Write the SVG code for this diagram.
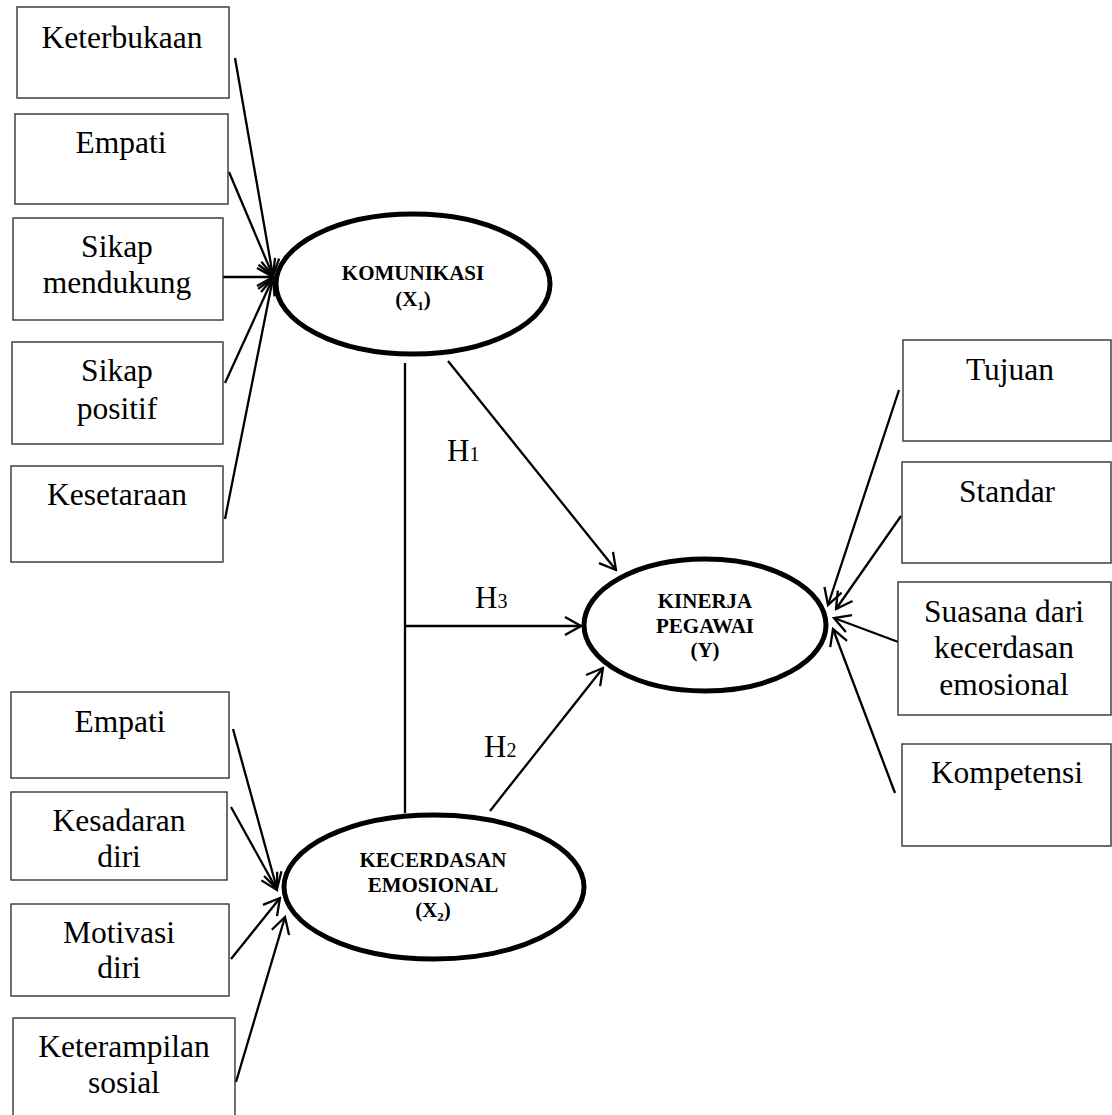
<svg xmlns="http://www.w3.org/2000/svg" width="1112" height="1115" viewBox="0 0 1112 1115">
<style>
.box{fill:#fff;stroke:#333;stroke-width:1.4}
.t{font-family:"Liberation Serif","Times New Roman",serif;font-size:31.5px;fill:#000;text-anchor:middle}
.lat{fill:#fff;stroke:#000;stroke-width:5}
.lt{font-family:"Liberation Serif","Times New Roman",serif;font-size:21px;font-weight:bold;fill:#000;text-anchor:middle}
.ln{stroke:#000;stroke-width:2.3;fill:none}
.h{font-family:"Liberation Serif","Times New Roman",serif;font-size:31px;fill:#000}
</style>
<defs>
<marker id="arr" viewBox="-20 -12 22 24" markerWidth="22" markerHeight="24" refX="0" refY="0" markerUnits="userSpaceOnUse" orient="auto">
<path d="M-16,-9 L0,0 L-16,9" fill="none" stroke="#000" stroke-width="2.3"/>
</marker>
</defs>
<rect width="1112" height="1115" fill="#fff"/>

<g id="connectors">
<line class="ln" x1="235" y1="58" x2="273" y2="276" marker-end="url(#arr)"/>
<line class="ln" x1="229" y1="172" x2="273" y2="276" marker-end="url(#arr)"/>
<line class="ln" x1="222" y1="277" x2="273" y2="277" marker-end="url(#arr)"/>
<line class="ln" x1="225" y1="383" x2="273" y2="278" marker-end="url(#arr)"/>
<line class="ln" x1="225" y1="519" x2="273" y2="278" marker-end="url(#arr)"/>

<line class="ln" x1="233" y1="729" x2="277" y2="889" marker-end="url(#arr)"/>
<line class="ln" x1="231" y1="807" x2="277" y2="890" marker-end="url(#arr)"/>
<line class="ln" x1="231" y1="959" x2="280" y2="898" marker-end="url(#arr)"/>
<line class="ln" x1="236" y1="1082" x2="285" y2="917" marker-end="url(#arr)"/>

<line class="ln" x1="405" y1="363" x2="405" y2="813"/>
<line class="ln" x1="405" y1="626" x2="581" y2="626" marker-end="url(#arr)"/>
<line class="ln" x1="448" y1="361" x2="616" y2="570" marker-end="url(#arr)"/>
<line class="ln" x1="490" y1="811" x2="603" y2="668" marker-end="url(#arr)"/>

<line class="ln" x1="899" y1="390" x2="828" y2="605" marker-end="url(#arr)"/>
<line class="ln" x1="901" y1="516" x2="836" y2="609" marker-end="url(#arr)"/>
<line class="ln" x1="901" y1="643" x2="834" y2="618" marker-end="url(#arr)"/>
<line class="ln" x1="895" y1="793" x2="833" y2="629" marker-end="url(#arr)"/>
</g>

<g id="keterbukaan"><rect class="box" x="17" y="7" width="212" height="91"/><text class="t" x="122" y="48">Keterbukaan</text></g>
<g id="empati1"><rect class="box" x="15" y="114" width="213" height="90"/><text class="t" x="121" y="153">Empati</text></g>
<g id="sikap-mendukung"><rect class="box" x="13" y="218" width="210" height="102"/><text class="t" x="117" y="257">Sikap</text><text class="t" x="117" y="293">mendukung</text></g>
<g id="sikap-positif"><rect class="box" x="12" y="342" width="211" height="102"/><text class="t" x="117" y="381">Sikap</text><text class="t" x="117" y="419">positif</text></g>
<g id="kesetaraan"><rect class="box" x="11" y="466" width="212" height="96"/><text class="t" x="117" y="505">Kesetaraan</text></g>

<g id="empati2"><rect class="box" x="11" y="692" width="218" height="86"/><text class="t" x="120" y="732">Empati</text></g>
<g id="kesadaran-diri"><rect class="box" x="11" y="792" width="216" height="88"/><text class="t" x="119" y="831">Kesadaran</text><text class="t" x="119" y="867">diri</text></g>
<g id="motivasi-diri"><rect class="box" x="11" y="904" width="218" height="92"/><text class="t" x="119" y="943">Motivasi</text><text class="t" x="119" y="978">diri</text></g>
<g id="keterampilan-sosial"><rect class="box" x="13" y="1018" width="222" height="104"/><text class="t" x="124" y="1057">Keterampilan</text><text class="t" x="124" y="1093">sosial</text></g>

<g id="tujuan"><rect class="box" x="903" y="340" width="208" height="101"/><text class="t" x="1010" y="380">Tujuan</text></g>
<g id="standar"><rect class="box" x="902" y="462" width="209" height="101"/><text class="t" x="1007" y="502">Standar</text></g>
<g id="suasana"><rect class="box" x="898" y="582" width="213" height="133"/><text class="t" x="1004" y="622">Suasana dari</text><text class="t" x="1004" y="658">kecerdasan</text><text class="t" x="1004" y="695">emosional</text></g>
<g id="kompetensi"><rect class="box" x="902" y="744" width="209" height="102"/><text class="t" x="1007" y="783">Kompetensi</text></g>

<g id="komunikasi"><ellipse class="lat" cx="413" cy="284" rx="137" ry="70"/><text class="lt" x="413" y="280">KOMUNIKASI</text><text class="lt" x="413" y="306">(X<tspan font-size="13" dy="4">1</tspan><tspan dy="-4">)</tspan></text></g>
<g id="kinerja"><ellipse class="lat" cx="705" cy="625" rx="121" ry="66"/><text class="lt" x="705" y="608">KINERJA</text><text class="lt" x="705" y="633">PEGAWAI</text><text class="lt" x="705" y="657">(Y)</text></g>
<g id="kecerdasan"><ellipse class="lat" cx="434" cy="887" rx="150" ry="72"/><text class="lt" x="433" y="867">KECERDASAN</text><text class="lt" x="433" y="892">EMOSIONAL</text><text class="lt" x="433" y="917">(X<tspan font-size="13" dy="4">2</tspan><tspan dy="-4">)</tspan></text></g>

<g id="labels">
<text class="h" x="447" y="461">H<tspan font-size="20">1</tspan></text>
<text class="h" x="475" y="608">H<tspan font-size="20">3</tspan></text>
<text class="h" x="484" y="757">H<tspan font-size="20">2</tspan></text>
</g>
</svg>
